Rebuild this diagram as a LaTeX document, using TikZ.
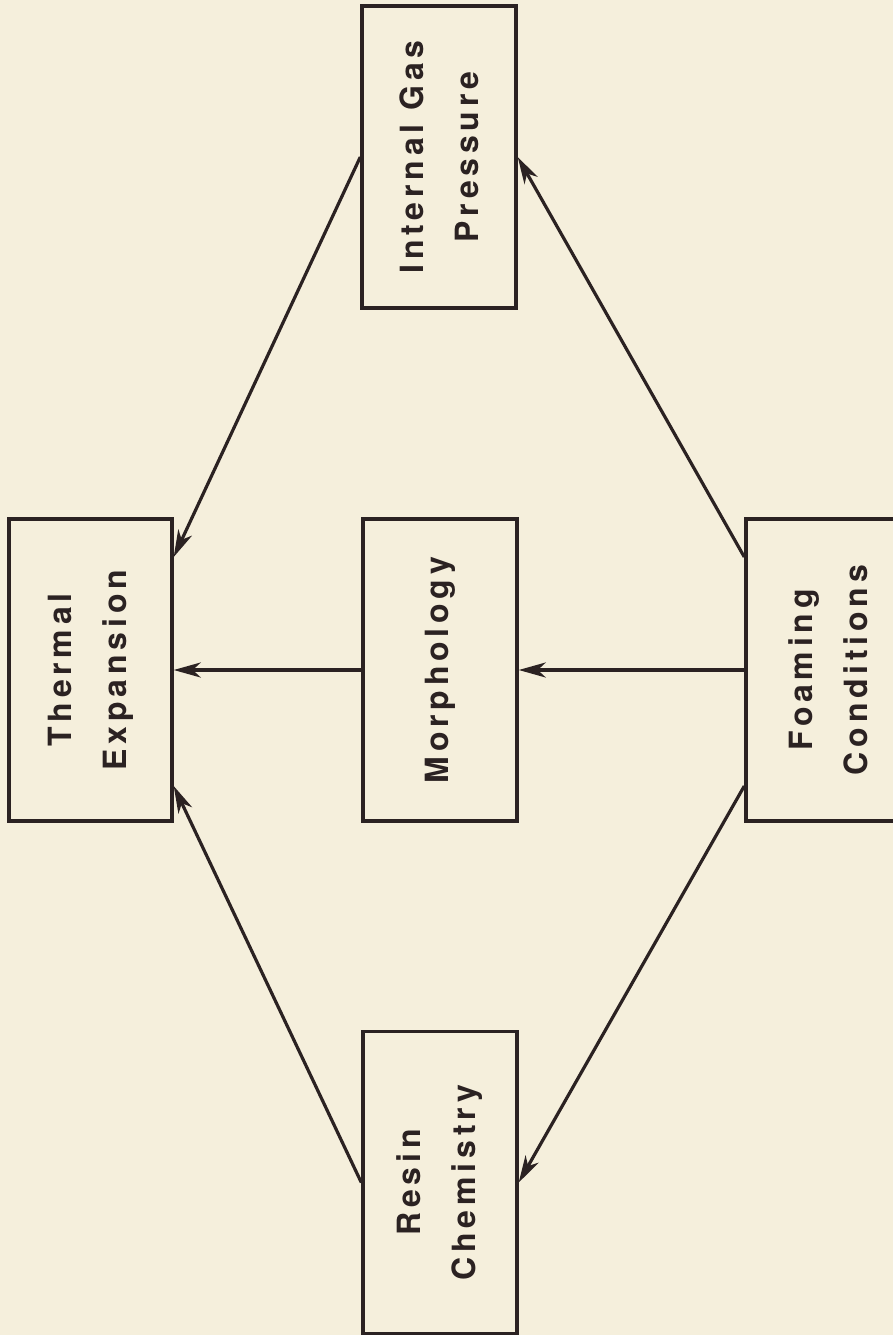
\documentclass[tikz,border=0pt]{standalone}
\usepackage{fontspec}
\setmainfont{TeX Gyre Heros}[LetterSpace=15]
\usetikzlibrary{arrows.meta}
\definecolor{paper}{HTML}{F5EFDC}
\definecolor{ink}{HTML}{2B2222}
\tikzset{
  box/.style={draw=ink, line width=3.4pt, rectangle, inner sep=0pt},
  lbl/.style={rotate=90, text=ink, align=center,
    font=\fontsize{32}{55}\selectfont\bfseries},
  conn/.style={draw=ink, line width=3.2pt,
    -{Stealth[length=27pt,width=15pt,inset=8pt]}},
}
\begin{document}
\begin{tikzpicture}[x=1pt,y=-1pt]
\clip (0,0) rectangle (893,1335);
\fill[paper] (0,0) rectangle (893,1335);
\node[box, minimum width=163pt, minimum height=302pt] (te) at (90.5,670) {};
\node[lbl] (tet) at (te.center) {Thermal\\Expansion};
\node[box, minimum width=154pt, minimum height=302pt] (mo) at (440,670) {};
\node[lbl] (mot) at (mo.center) {Morphology};
\node[box, minimum width=164pt, minimum height=302pt] (fc) at (828,670) {};
\node[lbl] (fct) at (fc.center) {Foaming\\Conditions};
\node[box, minimum width=154pt, minimum height=302pt] (ig) at (439,157) {};
\node[lbl] (igt) at (ig.center) {Internal Gas\\Pressure};
\node[box, minimum width=154pt, minimum height=302pt] (rc) at (440,1182.5) {};
\node[lbl] (rct) at (rc.center) {Resin\\Chemistry};
% connectors
\draw[conn] (ig.west) -- ([yshift=113pt]te.east);
\draw[conn] (mo.west) -- (te.east);
\draw[conn] (rc.west) -- ([yshift=-116pt]te.east);
\draw[conn] ([yshift=113pt]fc.west) -- (ig.east);
\draw[conn] (fc.west) -- (mo.east);
\draw[conn] ([yshift=-116pt]fc.west) -- (rc.east);
\end{tikzpicture}
\end{document}
